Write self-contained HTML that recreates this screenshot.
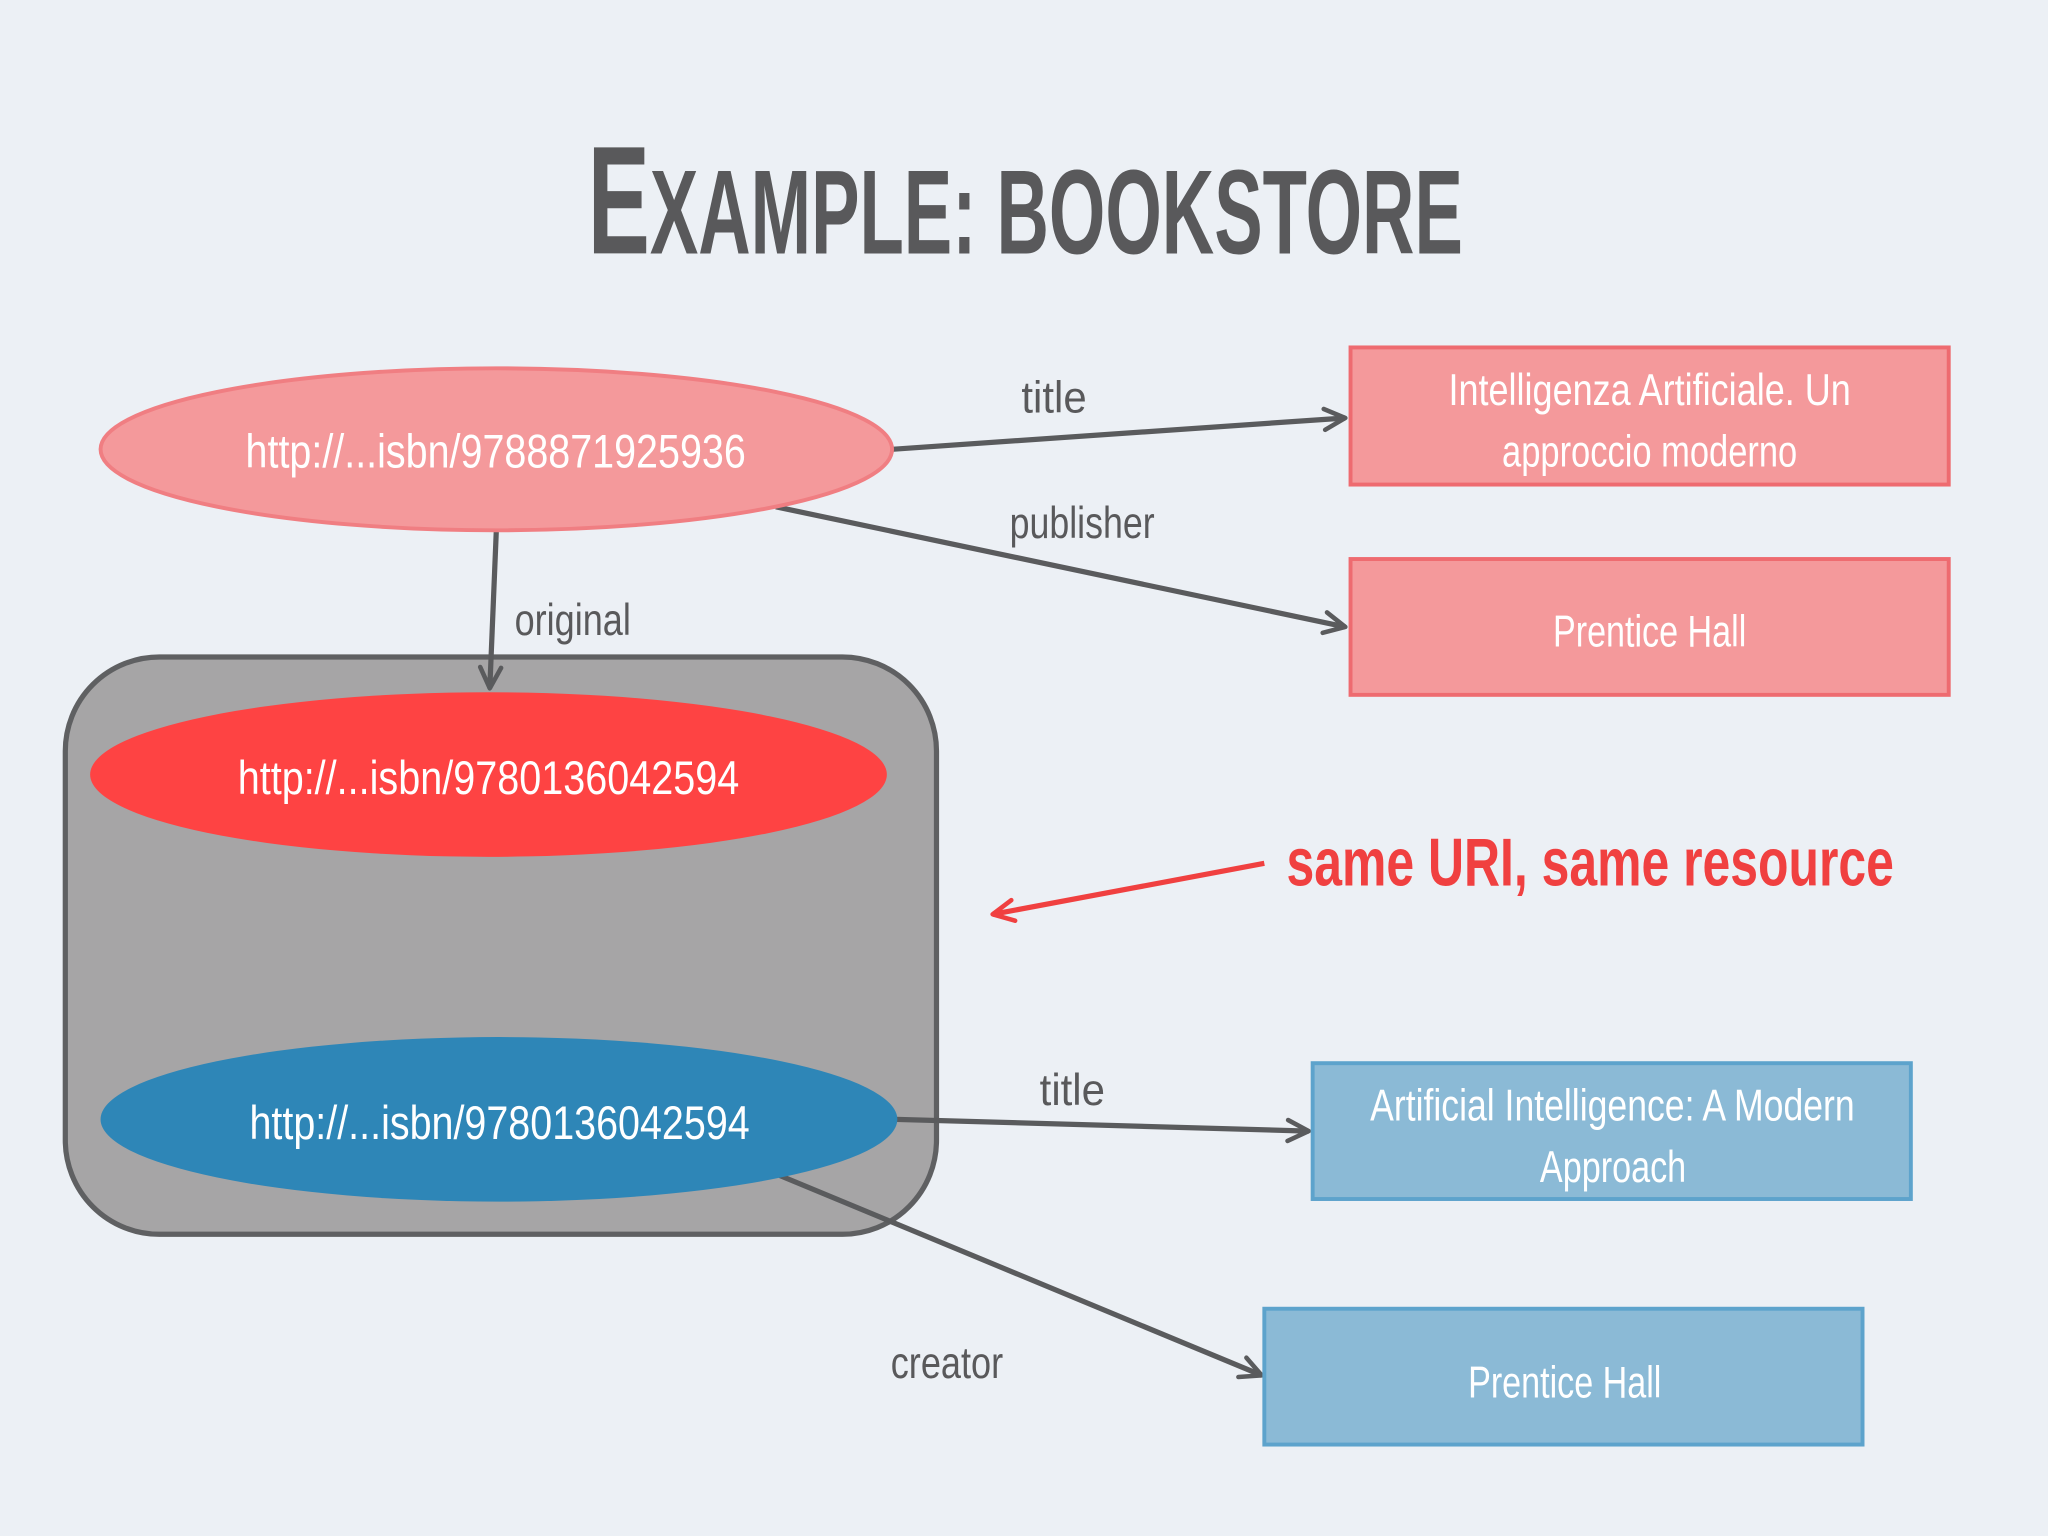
<!DOCTYPE html>
<html><head><meta charset="utf-8"><style>
html,body{margin:0;padding:0;background:#ecf0f5;}
svg{display:block}
text{font-family:"Liberation Sans Narrow","Liberation Sans",sans-serif;}
</style></head><body>
<svg width="2048" height="1536" viewBox="0 0 1568 1176" xmlns="http://www.w3.org/2000/svg">
<defs>
<marker id="ag" viewBox="0 0 20 20" refX="18" refY="10" markerWidth="20" markerHeight="20" markerUnits="userSpaceOnUse" orient="auto">
<polyline points="2,2 18,10 2,18" fill="none" stroke="#5a5b5d" stroke-width="3.5" stroke-linejoin="round" stroke-linecap="round"/></marker>
<marker id="ar" viewBox="0 0 20 20" refX="18" refY="10" markerWidth="20" markerHeight="20" markerUnits="userSpaceOnUse" orient="auto">
<polyline points="2,2 18,10 2,18" fill="none" stroke="#f04040" stroke-width="3.5" stroke-linejoin="round" stroke-linecap="round"/></marker>
</defs>
<rect width="1568" height="1176" fill="#ecf0f5"/>
<text x="450" y="194" fill="#59595b" font-weight="bold" textLength="670" lengthAdjust="spacingAndGlyphs"><tspan font-size="118">E</tspan><tspan font-size="92">XAMPLE: BOOKSTORE</tspan></text>

<!-- gray box -->
<rect x="50" y="503" width="667" height="442" rx="72" fill="#a6a5a6" stroke="#5f6062" stroke-width="4"/>

<!-- lines -->
<g stroke="#5a5b5d" stroke-width="4" fill="none">
<line x1="683" y1="344" x2="1030" y2="320" marker-end="url(#ag)"/>
<line x1="594" y1="388" x2="1030" y2="480" marker-end="url(#ag)"/>
<line x1="380" y1="406" x2="375" y2="527" marker-end="url(#ag)"/>
<line x1="686" y1="857" x2="1002" y2="866" marker-end="url(#ag)"/>
<line x1="597" y1="900" x2="966" y2="1053" marker-end="url(#ag)"/>
</g>
<line x1="968" y1="661" x2="760" y2="700" stroke="#f04040" stroke-width="4" marker-end="url(#ar)"/>

<!-- ellipses -->
<ellipse cx="380" cy="344" rx="303" ry="62" fill="#f4999b" stroke="#f07e82" stroke-width="3"/>
<ellipse cx="374" cy="593" rx="305" ry="63" fill="#fe4343"/>
<ellipse cx="382" cy="857" rx="305" ry="63" fill="#2e86b7"/>
<g fill="#fff" font-size="36">
<text x="188" y="358" textLength="383" lengthAdjust="spacingAndGlyphs">http://...isbn/9788871925936</text>
<text x="182" y="608" textLength="384" lengthAdjust="spacingAndGlyphs">http://...isbn/9780136042594</text>
<text x="191" y="872" textLength="383" lengthAdjust="spacingAndGlyphs">http://...isbn/9780136042594</text>
</g>

<!-- rects -->
<rect x="1034" y="266" width="458" height="105" fill="#f4999b" stroke="#ee6b70" stroke-width="3"/>
<rect x="1034" y="428" width="458" height="104" fill="#f4999b" stroke="#ee6b70" stroke-width="3"/>
<rect x="1005" y="814" width="458" height="104" fill="#8bbad6" stroke="#5da3cc" stroke-width="3"/>
<rect x="968" y="1002" width="458" height="104" fill="#8bbad6" stroke="#5da3cc" stroke-width="3"/>
<g fill="#fff" font-size="34">
<text x="1109" y="310" textLength="308" lengthAdjust="spacingAndGlyphs">Intelligenza Artificiale. Un</text>
<text x="1150" y="357" textLength="226" lengthAdjust="spacingAndGlyphs">approccio moderno</text>
<text x="1189" y="495" textLength="148" lengthAdjust="spacingAndGlyphs">Prentice Hall</text>
<text x="1049" y="858" textLength="371" lengthAdjust="spacingAndGlyphs">Artificial Intelligence: A Modern</text>
<text x="1179" y="905" textLength="112" lengthAdjust="spacingAndGlyphs">Approach</text>
<text x="1124" y="1070" textLength="148" lengthAdjust="spacingAndGlyphs">Prentice Hall</text>
</g>

<!-- labels -->
<g fill="#59595b" font-size="34">
<text x="782" y="316" textLength="50" lengthAdjust="spacingAndGlyphs">title</text>
<text x="773" y="412" textLength="111" lengthAdjust="spacingAndGlyphs">publisher</text>
<text x="394" y="486" textLength="89" lengthAdjust="spacingAndGlyphs">original</text>
<text x="796" y="846" textLength="50" lengthAdjust="spacingAndGlyphs">title</text>
<text x="682" y="1055" textLength="86" lengthAdjust="spacingAndGlyphs">creator</text>
</g>
<text x="985" y="678" fill="#f04040" font-size="52" font-weight="bold" textLength="465" lengthAdjust="spacingAndGlyphs">same URI, same resource</text>
</svg>
</body></html>
